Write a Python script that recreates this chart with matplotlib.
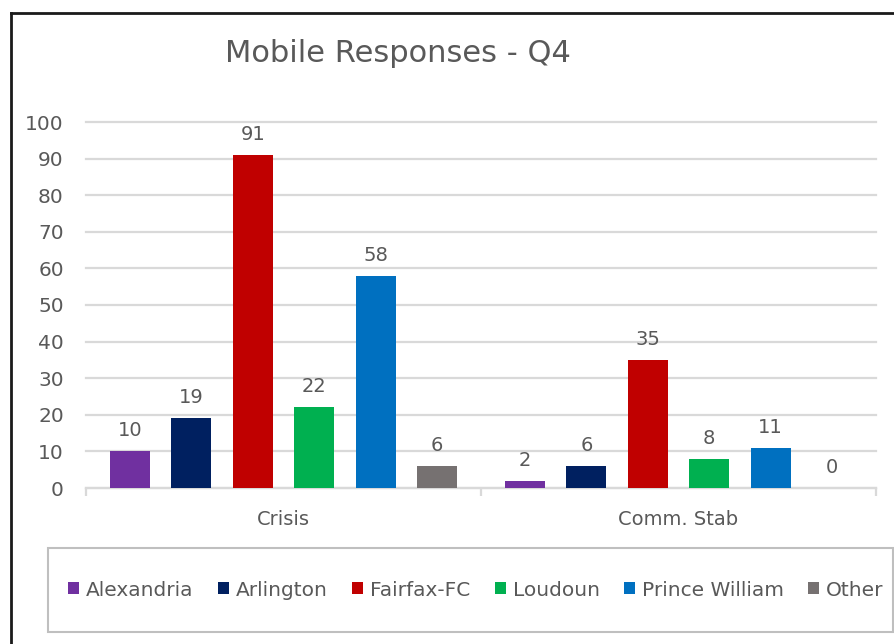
import matplotlib
matplotlib.use("Agg")
import matplotlib.pyplot as plt
import numpy as np
from matplotlib.patches import Rectangle
from matplotlib.lines import Line2D

categories = ["Crisis", "Comm. Stab"]
series_names = ["Alexandria", "Arlington", "Fairfax-FC", "Loudoun", "Prince William", "Other"]
alexandria = [10, 2]
arlington = [19, 6]
fairfax_fc = [91, 35]
loudoun = [22, 8]
prince_william = [58, 11]
other = [6, 0]
series_values = [alexandria, arlington, fairfax_fc, loudoun, prince_william, other]
colors = ["#7030A0", "#002060", "#C00000", "#00B050", "#0070C0", "#767171"]
yticks = [0, 10, 20, 30, 40, 50, 60, 70, 80, 90, 100]

W, H = 895, 644
fig = plt.figure(figsize=(W / 100, H / 100), dpi=100)
text_color = "#595959"
grid_color = "#D9D9D9"

# axes placement in pixels
ax_left, ax_right = 86, 876
ax_bottom, ax_top = 488, 122
ax = fig.add_axes([ax_left / W, 1 - ax_bottom / H, (ax_right - ax_left) / W, (ax_bottom - ax_top) / H])

x = np.arange(len(categories))
slot = 0.1555
bw = 0.101
n = len(series_names)
for i, (name, vals, c) in enumerate(zip(series_names, series_values, colors)):
    offs = (i - (n - 1) / 2) * slot
    ax.bar(x + offs, vals, width=bw, color=c, label=name, zorder=3)
    for xb, v in zip(x + offs, vals):
        ax.annotate(f"{v}", (xb, v), xytext=(0, 8), textcoords="offset points",
                    ha="center", va="bottom", fontsize=14, color=text_color)

ax.set_xlim(-0.5, 1.5)
ax.set_ylim(0, 100)
ax.set_yticks(yticks)
ax.set_yticklabels([str(t) for t in yticks])
ax.tick_params(axis="y", length=0, labelsize=14.5, labelcolor=text_color, pad=16)
ax.yaxis.grid(True, color=grid_color, linewidth=1.6, zorder=0)
for gl in ax.get_ygridlines():
    gl.set_clip_on(False)
ax.set_axisbelow(True)
for s in ["left", "right", "top"]:
    ax.spines[s].set_visible(False)
ax.spines["bottom"].set_color(grid_color)
ax.spines["bottom"].set_linewidth(1.6)
ax.set_xticks([-0.5, 0.5, 1.5], minor=False)
ax.set_xticklabels(["", "", ""])
ax.tick_params(axis="x", which="major", length=6, width=1.6, color=grid_color)
ax.set_xticks(x, minor=True)
ax.set_xticklabels(categories, minor=True)
ax.tick_params(axis="x", which="minor", length=0, labelsize=14, labelcolor=text_color, pad=16)

# title
fig.text(398 / W, 1 - 53 / H, "Mobile Responses - Q4", ha="center", va="center",
         fontsize=22, color=text_color)

# legend box
fig.patches.append(Rectangle((48 / W, 1 - 632 / H), (893 - 48) / W, (632 - 548) / H,
                             transform=fig.transFigure, facecolor="white",
                             edgecolor="#BFBFBF", linewidth=1.5, zorder=1))
handles = [Rectangle((0, 0), 1, 1, facecolor=c) for c in colors]
leg = fig.legend(handles, series_names, loc="center", bbox_to_anchor=(476 / W, 1 - 590 / H),
                 ncol=6, frameon=False, fontsize=14.5, handlelength=0.55, handleheight=0.55,
                 handletextpad=0.35, columnspacing=1.2, labelcolor=text_color)

# outer border (left and top)
fig.add_artist(Line2D([11 / W, 11 / W], [0, 1 - 13 / H], transform=fig.transFigure,
                      color="#1a1a1a", linewidth=2))
fig.add_artist(Line2D([11 / W, 1], [1 - 13 / H, 1 - 13 / H], transform=fig.transFigure,
                      color="#1a1a1a", linewidth=2))

fig.savefig("out.png", dpi=100)
